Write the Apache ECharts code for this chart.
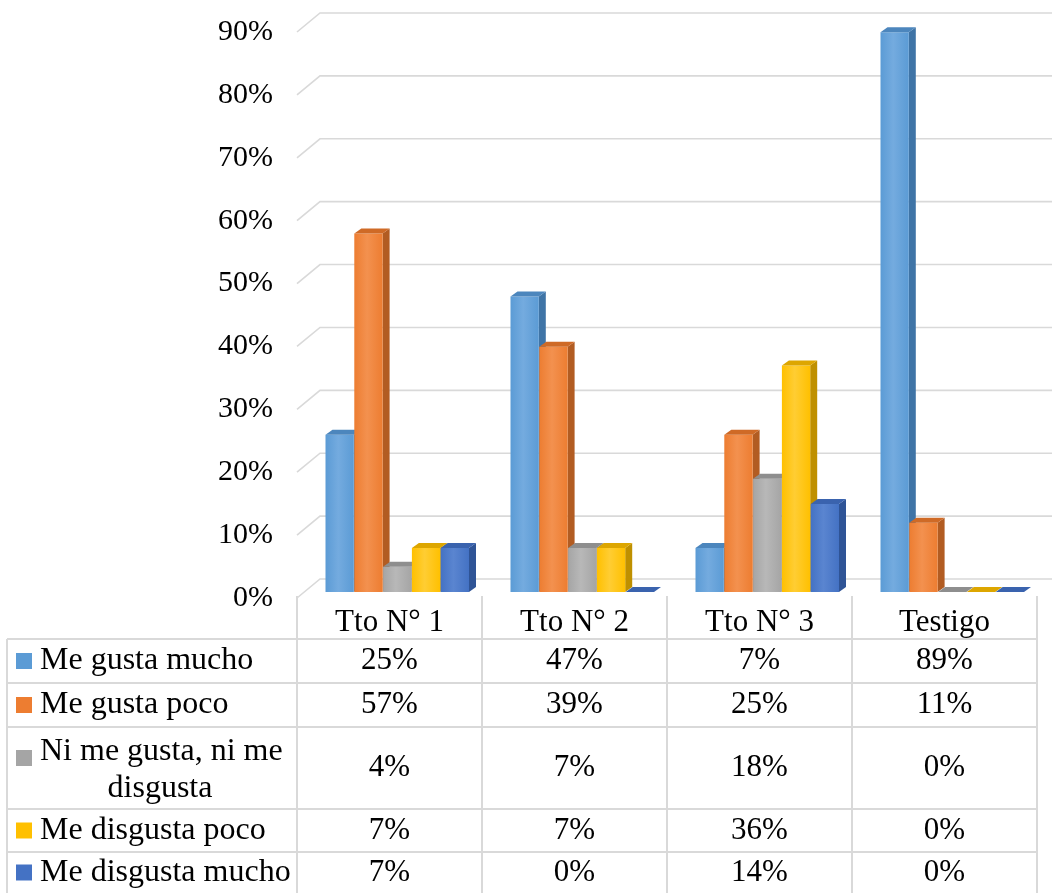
<!DOCTYPE html>
<html>
<head>
<meta charset="utf-8">
<title>Preferencia por tratamiento</title>
<script src="https://cdn.jsdelivr.net/npm/echarts@6/dist/echarts.min.js"></script>
<style>
  html, body { margin: 0; padding: 0; background: #ffffff; }
  #chart { width: 1052px; height: 893px; }
</style>
</head>
<body>
<div id="chart"></div>
<script>
// Treatments along the x axis
const categories = ['Tto N° 1', 'Tto N° 2', 'Tto N° 3', 'Testigo'];

// Response categories (one series each), values in percent
const seriesNames = ['Me gusta mucho', 'Me gusta poco', 'Ni me gusta, ni me disgusta', 'Me disgusta poco', 'Me disgusta mucho'];
const meGustaMucho     = [25, 47, 7, 89];
const meGustaPoco      = [57, 39, 25, 11];
const niMeGustaNiMeDis = [4, 7, 18, 0];
const meDisgustaPoco   = [7, 7, 36, 0];
const meDisgustaMucho  = [7, 0, 14, 0];
const seriesValues = [meGustaMucho, meGustaPoco, niMeGustaNiMeDis, meDisgustaPoco, meDisgustaMucho];

// Value axis ticks
const yTicks = [0, 10, 20, 30, 40, 50, 60, 70, 80, 90];

// Face colours: front, side, top
const palette = [
  { front: '#5B9BD5', light: '#74ABDF', side: '#3F74A6', top: '#4C86BD' },
  { front: '#ED7D31', light: '#F3914F', side: '#B25C22', top: '#CF6A26' },
  { front: '#A5A5A5', light: '#B8B8B8', side: '#7B7B7B', top: '#8E8E8E' },
  { front: '#FFC000', light: '#FFCD33', side: '#BF9000', top: '#DDA600' },
  { front: '#4472C4', light: '#5A85D0', side: '#2F5496', top: '#3A63AE' }
];

const FONT = "'Liberation Serif', 'Times New Roman', serif";
const WALL_DX = 23, WALL_DY = -19;   // back wall offset
const BAR_DX = 8, BAR_DY = -6;       // bar row offset from the front plane
const BAR_PITCH = 28.8, BAR_W = 28.3;
const DEPTH_DX = 7, DEPTH_DY = -5;   // bar thickness
const GRID_COLOR = '#d9d9d9';

const chart = echarts.init(document.getElementById('chart'), null, { renderer: 'canvas' });

function wallItem(params, api) {
  const cs = params.coordSys;
  const y = api.coord([0, api.value(1)])[1];
  return {
    type: 'polyline',
    shape: { points: [[cs.x, y], [cs.x + WALL_DX, y + WALL_DY], [1060, y + WALL_DY]] },
    style: { stroke: GRID_COLOR, lineWidth: 1.6, fill: null },
    silent: true
  };
}

function makeBarItem(k) {
  const c = palette[k];
  return function (params, api) {
    const cat = api.value(0);
    const base = api.coord([cat, 0]);
    const top = api.coord([cat, api.value(1)]);
    const l = base[0] + (k - 2.5) * BAR_PITCH + BAR_DX;
    const r = l + BAR_W;
    const y0 = base[1] + BAR_DY;
    const y1 = top[1] + BAR_DY;
    const children = [];
    // side face
    children.push({
      type: 'polygon',
      shape: { points: [[r, y1], [r + DEPTH_DX, y1 + DEPTH_DY], [r + DEPTH_DX, y0 + DEPTH_DY], [r, y0]] },
      style: { fill: c.side }
    });
    // front face
    if (y0 - y1 > 0.5) {
      children.push({
        type: 'rect',
        shape: { x: l, y: y1, width: BAR_W, height: y0 - y1 },
        style: {
          fill: new echarts.graphic.LinearGradient(0, 0, 1, 0, [
            { offset: 0, color: c.front },
            { offset: 0.45, color: c.light },
            { offset: 1, color: c.front }
          ])
        }
      });
    }
    // top face
    children.push({
      type: 'polygon',
      shape: { points: [[l, y1], [l + DEPTH_DX, y1 + DEPTH_DY], [r + DEPTH_DX, y1 + DEPTH_DY], [r, y1]] },
      style: { fill: c.top }
    });
    return { type: 'group', children: children };
  };
}

const series = [{
  type: 'custom',
  name: 'wall',
  renderItem: wallItem,
  data: yTicks.map(v => [0, v]),
  silent: true,
  z: 1
}];
seriesValues.forEach((vals, k) => {
  series.push({
    type: 'custom',
    name: seriesNames[k],
    renderItem: makeBarItem(k),
    data: vals.map((v, i) => [i, v]),
    z: 2 + k
  });
});

chart.setOption({
  backgroundColor: '#ffffff',
  animation: false,
  grid: { left: 297, right: 15, top: 32, bottom: 295 },
  xAxis: {
    type: 'category',
    data: categories,
    axisLine: { show: false },
    axisTick: { show: false },
    splitLine: { show: false },
    axisLabel: { fontFamily: FONT, fontSize: 31, color: '#000', margin: 10, lineHeight: 30 }
  },
  yAxis: {
    type: 'value',
    min: 0, max: 90, interval: 10,
    axisLine: { show: false },
    axisTick: { show: false },
    splitLine: { show: false },
    axisLabel: { formatter: '{value}%', fontFamily: FONT, fontSize: 30, color: '#000', margin: 24 }
  },
  series: series
});

// Data table beneath the plot
(function drawTable() {
  const rowTops = [639, 683, 727, 809, 852];
  const rowBottoms = [683, 727, 809, 852, 893];
  const tableLeft = 7;
  const first = chart.convertToPixel({ xAxisIndex: 0 }, 0);
  const second = chart.convertToPixel({ xAxisIndex: 0 }, 1);
  const colW = second - first;
  const colLeft = first - colW / 2;
  const tableRight = colLeft + colW * categories.length;
  const g = [];
  const line = (x1, y1, x2, y2) => g.push({
    type: 'line', silent: true,
    shape: { x1: x1, y1: y1, x2: x2, y2: y2 },
    style: { stroke: GRID_COLOR, lineWidth: 2 }
  });
  // column dividers (including header cells)
  for (let i = 0; i <= categories.length; i++) {
    line(colLeft + i * colW, 596, colLeft + i * colW, 893);
  }
  line(tableLeft, 639, tableLeft, 893);
  rowTops.forEach(y => line(tableLeft, y, tableRight, y));

  seriesNames.forEach((name, k) => {
    const yc = (rowTops[k] + rowBottoms[k]) / 2;
    const twoLines = k === 2;
    const keyY = twoLines ? rowTops[k] + 31 : yc;
    g.push({
      type: 'rect', silent: true,
      shape: { x: 16, y: keyY - 8, width: 16, height: 16 },
      style: { fill: palette[k].front }
    });
    if (twoLines) {
      g.push({
        type: 'text', silent: true,
        style: { text: 'Ni me gusta, ni me', x: 40, y: rowTops[k] + 25, fontFamily: FONT, fontSize: 32, fill: '#000', textAlign: 'left', textVerticalAlign: 'middle' }
      });
      g.push({
        type: 'text', silent: true,
        style: { text: 'disgusta', x: 160, y: rowTops[k] + 62, fontFamily: FONT, fontSize: 32, fill: '#000', textAlign: 'center', textVerticalAlign: 'middle' }
      });
    } else {
      g.push({
        type: 'text', silent: true,
        style: { text: name, x: 40, y: yc, fontFamily: FONT, fontSize: 32, fill: '#000', textAlign: 'left', textVerticalAlign: 'middle' }
      });
    }
    seriesValues[k].forEach((v, i) => {
      g.push({
        type: 'text', silent: true,
        style: { text: v + '%', x: colLeft + (i + 0.5) * colW, y: yc, fontFamily: FONT, fontSize: 31, fill: '#000', textAlign: 'center', textVerticalAlign: 'middle' }
      });
    });
  });
  chart.setOption({ graphic: g });
})();
</script>
</body>
</html>
